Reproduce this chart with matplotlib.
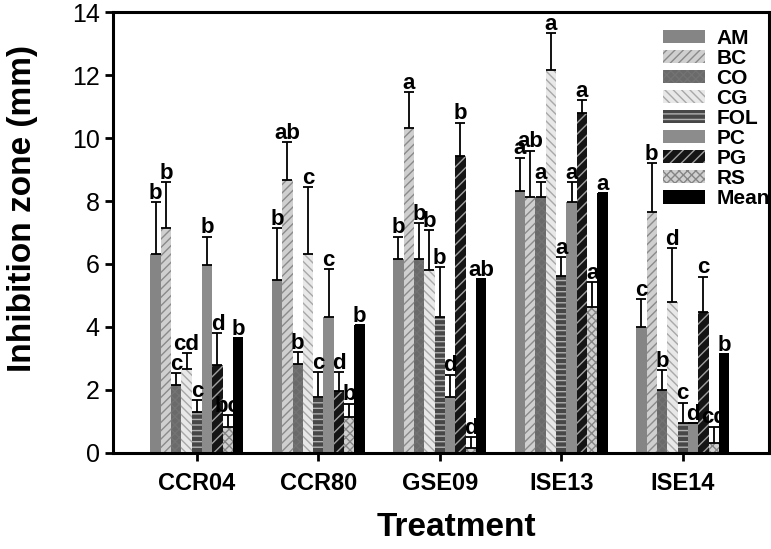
import numpy as np
import matplotlib
matplotlib.use("Agg")
import matplotlib.pyplot as plt

plt.rcParams['font.family'] = ['Liberation Sans', 'DejaVu Sans']
plt.rcParams['hatch.linewidth'] = 1.0

treatments = ['CCR04', 'CCR80', 'GSE09', 'ISE13', 'ISE14']
series = ['AM', 'BC', 'CO', 'CG', 'FOL', 'PC', 'PG', 'RS', 'Mean']

# mean values per series, one value per treatment
AM   = [6.32, 5.49, 6.16, 8.32, 4.00]
BC   = [7.14, 8.67, 10.32, 8.13, 7.65]
CO   = [2.16, 2.83, 6.16, 8.13, 2.00]
CG   = [2.67, 6.32, 5.81, 12.16, 4.79]
FOL  = [1.30, 1.78, 4.32, 5.62, 0.95]
PC   = [5.97, 4.32, 1.78, 7.97, 0.95]
PG   = [2.79, 1.97, 9.43, 10.79, 4.48]
RS   = [0.83, 1.14, 0.16, 4.63, 0.32]
Mean = [3.65, 4.06, 5.52, 8.25, 3.14]

# upper error (standard deviation)
AM_err   = [1.65, 1.65, 0.70, 1.05, 0.89]
BC_err   = [1.46, 1.20, 1.14, 1.46, 1.55]
CO_err   = [0.38, 0.37, 1.14, 0.47, 0.63]
CG_err   = [0.50, 2.12, 1.27, 1.17, 1.71]
FOL_err  = [0.38, 0.79, 1.58, 0.60, 0.64]
PC_err   = [0.89, 1.52, 0.70, 0.63, 0.00]
PG_err   = [1.02, 0.60, 1.05, 0.41, 1.12]
RS_err   = [0.37, 0.42, 0.34, 0.80, 0.51]
Mean_err = [0, 0, 0, 0, 0]

# significance letters
AM_lab   = ['b', 'b', 'b', 'a', 'c']
BC_lab   = ['b', 'ab', 'a', 'ab', 'b']
CO_lab   = ['c', 'b', 'b', 'a', 'b']
CG_lab   = ['cd', 'c', 'b', 'a', 'd']
FOL_lab  = ['c', 'c', 'b', 'a', 'c']
PC_lab   = ['b', 'c', 'd', 'a', 'd']
PG_lab   = ['d', 'd', 'b', 'a', 'c']
RS_lab   = ['bc', 'b', 'd', 'a', 'cd']
Mean_lab = ['b', 'b', 'ab', 'a', 'b']

values = [AM, BC, CO, CG, FOL, PC, PG, RS, Mean]
errors = [AM_err, BC_err, CO_err, CG_err, FOL_err, PC_err, PG_err, RS_err, Mean_err]
letters = [AM_lab, BC_lab, CO_lab, CG_lab, FOL_lab, PC_lab, PG_lab, RS_lab, Mean_lab]

# (facecolor, hatch, hatch colour)
styles = [
    ('#858585', None, '#858585'),
    ('#cfcfcf', '////', '#8a8a8a'),
    ('#6a6a6a', 'xxxx', '#737373'),
    ('#e8e8e8', '\\\\\\\\', '#a8a8a8'),
    ('#474747', '---', '#b0b0b0'),
    ('#8c8c8c', None, '#8c8c8c'),
    ('#151515', '///', '#a0a0a0'),
    ('#d0d0d0', 'xxxx', '#858585'),
    ('#000000', None, '#000000'),
]

fig = plt.figure(figsize=(7.71, 5.49), dpi=100)
ax = fig.add_axes([0.1466, 0.1749, 0.8508, 0.8032])

x = np.arange(len(treatments))
w = 0.085
for i, (vals, errs, labs, st) in enumerate(zip(values, errors, letters, styles)):
    pos = x + (i - 4) * w
    ax.bar(pos, vals, width=w, color=st[0], edgecolor=st[2], hatch=st[1],
           linewidth=0, label=series[i], zorder=2)
    e = np.array(errs)
    ax.errorbar(pos, vals, yerr=[np.zeros_like(e), e], fmt='none', ecolor='black',
                elinewidth=1.3, capsize=3.5, capthick=1.3, zorder=3)
    for p, v, er, lab in zip(pos, vals, errs, labs):
        ax.text(p, v + er - 0.05, lab, ha='center', va='bottom',
                fontsize=16, fontweight='bold', zorder=4)

ax.set_xlim(-0.69, 4.71)
ax.set_ylim(0, 14)
ax.set_yticks(np.arange(0, 15, 2))
ax.set_xticks(x)
ax.set_xticklabels(treatments, fontsize=17, fontweight='bold')
ax.tick_params(axis='y', labelsize=18, direction='out', length=6, width=2)
ax.tick_params(axis='x', direction='out', length=6, width=2, pad=8)
for s in ax.spines.values():
    s.set_linewidth(2.2)

ax.set_xlabel('Treatment', fontsize=24, fontweight='bold', va='center')
ax.xaxis.set_label_coords(0.523, -0.168)
ax.set_ylabel('Inhibition zone (mm)', fontsize=24, fontweight='bold', va='center')
ax.yaxis.set_label_coords(-0.138, 0.555)

leg = ax.legend(loc='upper right', bbox_to_anchor=(1.02, 0.99), frameon=False,
                prop={'weight': 'bold', 'size': 15}, handlelength=2.0,
                handleheight=0.6, labelspacing=0.05, handletextpad=0.55,
                borderaxespad=0.2)

fig.savefig('out.png', dpi=100)
